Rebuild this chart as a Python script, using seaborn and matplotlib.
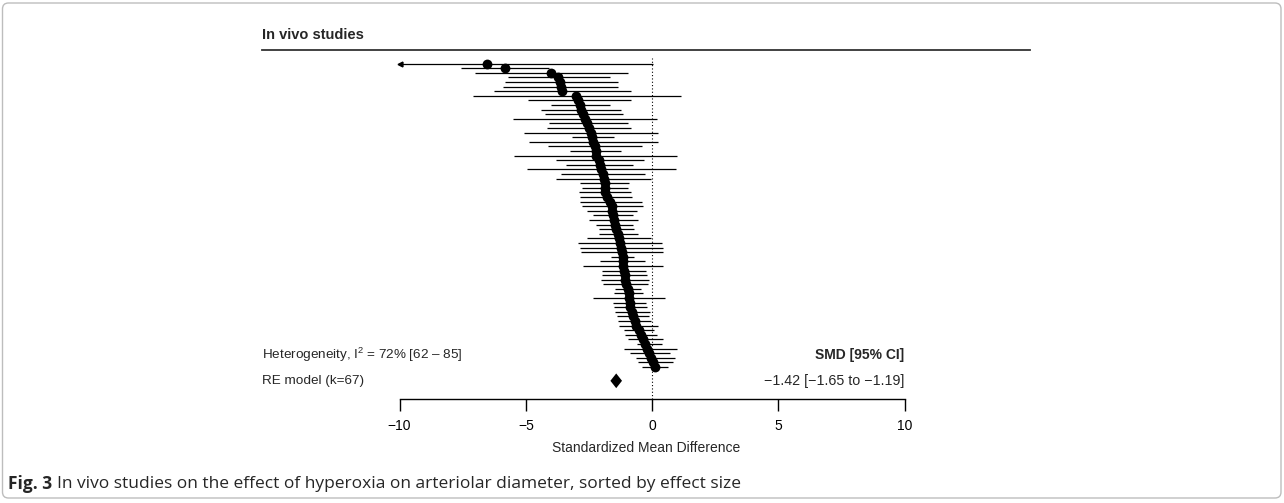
import numpy as np
import pandas as pd
import matplotlib
matplotlib.use("Agg")
import matplotlib.pyplot as plt
import matplotlib.transforms as mtransforms
from matplotlib.patches import FancyBboxPatch
import seaborn as sns

# ---------------- data ----------------
smd = [-6.55, -5.82, -4.00, -3.72, -3.66, -3.62, -3.56, -3.00, -2.92, -2.86,
       -2.80, -2.74, -2.66, -2.56, -2.50, -2.42, -2.36, -2.32, -2.26, -2.24,
       -2.22, -2.10, -2.07, -2.02, -1.96, -1.92, -1.88, -1.86, -1.85, -1.80,
       -1.66, -1.60, -1.58, -1.55, -1.52, -1.48, -1.42, -1.34, -1.31, -1.26,
       -1.22, -1.20, -1.17, -1.16, -1.14, -1.12, -1.09, -1.07, -1.04, -0.97,
       -0.93, -0.90, -0.88, -0.86, -0.78, -0.74, -0.68, -0.62, -0.52, -0.44,
       -0.36, -0.28, -0.20, -0.12, -0.04, 0.04, 0.12]
ci_low = [-13.15, -7.56, -7.01, -5.69, -5.82, -5.89, -6.26, -7.08, -4.90, -4.01,
          -4.40, -4.26, -5.52, -4.09, -4.16, -5.06, -3.18, -4.88, -4.11, -3.27,
          -5.47, -3.82, -3.41, -4.94, -3.62, -3.80, -2.85, -2.76, -2.88, -2.85,
          -2.85, -2.79, -2.59, -2.32, -2.50, -2.23, -2.09, -2.09, -2.56, -2.92,
          -2.85, -2.81, -1.62, -2.06, -2.72, -1.99, -1.97, -2.03, -1.93, -1.47,
          -1.50, -2.32, -1.53, -1.50, -1.45, -1.40, -1.33, -1.29, -1.10, -1.07,
          -0.94, -0.61, -1.11, -0.87, -0.63, -0.54, -0.40]
ci_high = [0.05, -4.08, -0.96, -1.66, -1.36, -1.33, -0.83, 1.14, -0.84, -1.66,
           -1.23, -1.17, 0.18, -0.96, -0.83, 0.25, -1.49, 0.25, -0.38, -1.23,
           0.98, -0.32, -0.74, 0.94, -0.28, -0.04, -0.90, -0.96, -0.84, -0.78,
           -0.41, -0.37, -0.58, -0.77, -0.54, -0.74, -0.70, -0.54, -0.04, 0.41,
           0.42, 0.42, -0.71, -0.28, 0.45, -0.24, -0.21, -0.11, -0.15, -0.45,
           -0.34, 0.51, -0.24, -0.21, -0.08, -0.11, -0.04, 0.22, 0.09, 0.18,
           0.45, 0.38, 1.00, 0.71, 0.91, 0.82, 0.64]

re_est, re_low, re_high = -1.42, -1.65, -1.19
x_ticks = [-10, -5, 0, 5, 10]
title = "In vivo studies"
het_label = "Heterogeneity, I$^{2}$ = 72% [62 \u2013 85]"
re_label = "RE model (k=67)"
smd_header = "SMD [95% CI]"
re_text = "\u22121.42 [\u22121.65 to \u22121.19]"
x_label = "Standardized Mean Difference"
cap_bold = "Fig. 3"
cap_text = "In vivo studies on the effect of hyperoxia on arteriolar diameter, sorted by effect size"

# ---------------- style ----------------
sns.set_theme(style="white")
plt.rcParams["font.family"] = ["Liberation Sans", "DejaVu Sans"]
plt.rcParams["mathtext.fontset"] = "custom"
plt.rcParams["mathtext.rm"] = "Liberation Sans"
plt.rcParams["mathtext.it"] = "Liberation Sans:italic"
plt.rcParams["mathtext.bf"] = "Liberation Sans:bold"

W, H = 1284, 503
fig = plt.figure(figsize=(W / 100, H / 100), dpi=100)
fig.patch.set_facecolor("white")

# axes placement in pixels
ax_l, ax_r, ax_t, ax_b = 262, 1030, 50, 399
ax = fig.add_axes([ax_l / W, 1 - ax_b / H, (ax_r - ax_l) / W, (ax_b - ax_t) / H])

k = len(smd)
df = pd.DataFrame({"smd": smd, "lo": ci_low, "hi": ci_high})
df["row"] = np.arange(k, 0, -1)
lo_draw = np.clip(df["lo"].values, x_ticks[0], None)

ax.hlines(df["row"], lo_draw, df["hi"], color="black", lw=0.9, zorder=2)
trunc = df["lo"].values < x_ticks[0]
ax.plot(np.full(trunc.sum(), x_ticks[0]), df["row"][trunc], marker="<",
        ms=3.5, color="black", ls="none", zorder=2)
sns.scatterplot(data=df, x="smd", y="row", color="black", s=50, linewidth=0,
                ax=ax, zorder=3, legend=False)

# RE diamond
y_re = -2.0
h = 1.6
ax.fill([re_low, re_est, re_high, re_est], [y_re, y_re + h, y_re, y_re - h],
        color="black", lw=0, zorder=3)

# zero reference line
ax.vlines(0, -5.96, k + 1.3, colors="black", linestyles=(0, (1, 2)), lw=0.8, zorder=1)

ax.set_xlim(-15.45, 14.97)
ax.set_ylim(-5.96, 69.98)

for s in ["left", "right"]:
    ax.spines[s].set_visible(False)
ax.spines["top"].set_color("#333333")
ax.spines["top"].set_linewidth(1.3)
ax.spines["bottom"].set_bounds(x_ticks[0], x_ticks[-1])
ax.spines["bottom"].set_color("black")
ax.spines["bottom"].set_linewidth(1.0)
ax.set_xticks(x_ticks)
ax.set_yticks([])
ax.tick_params(axis="x", direction="out", length=8.5, width=1.0, labelsize=10,
               pad=6, bottom=True, colors="black")
ax.set_xlabel(x_label, fontsize=10, labelpad=6)
ax.set_ylabel("")

lt = mtransforms.blended_transform_factory(ax.transAxes, ax.transData)
ax.text(0, 3.6, het_label, transform=lt, ha="left", va="center", fontsize=9.7)
ax.text(0, y_re, re_label, transform=lt, ha="left", va="center", fontsize=9.7)
ax.text(x_ticks[-1], 3.6, smd_header, ha="right", va="center", fontsize=10,
        fontweight="bold")
ax.text(x_ticks[-1], y_re, re_text, ha="right", va="center", fontsize=10.3)

fig.text(ax_l / W, 1 - 35 / H, title, ha="left", va="center", fontsize=10.5,
         fontweight="bold")

# caption
renderer = fig.canvas.get_renderer()
cap_y = 1 - 484 / H
t1 = fig.text(8 / W, cap_y, cap_bold, ha="left", va="center", fontsize=12.5,
              fontweight="bold", family=["Open Sans", "DejaVu Sans"])
bb = t1.get_window_extent(renderer=renderer)
fig.text((bb.x1 + 5) / W, cap_y, cap_text, ha="left", va="center",
         fontsize=12.5, family=["Open Sans", "DejaVu Sans"])

# outer frame
frame = FancyBboxPatch((2.5, 5), W - 5.5, H - 8, boxstyle="round,pad=0,rounding_size=6",
                       transform=mtransforms.IdentityTransform(), fill=False,
                       edgecolor="#bdbdbd", lw=1.0)
fig.patches.append(frame)

fig.savefig("out.png", dpi=100, facecolor="white")
